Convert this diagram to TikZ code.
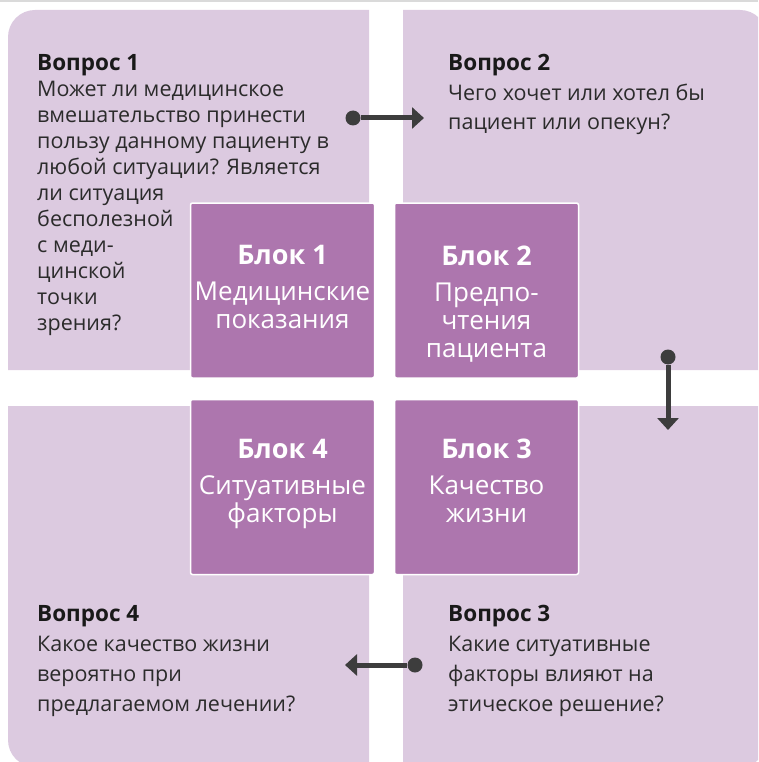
\documentclass[tikz,border=0pt]{standalone}
\usepackage{fontspec}
\setmainfont{Open Sans}
\usetikzlibrary{arrows.meta}

\definecolor{paleLilac}{HTML}{DCCAE0}
\definecolor{blockLilac}{HTML}{AD76AE}
\definecolor{bodyGray}{HTML}{2B2B2B}
\definecolor{arrowGray}{HTML}{3D3D3D}
\definecolor{ruleGray}{HTML}{DADADA}

\begin{document}
\begin{tikzpicture}
    [x = 1pt, y = -1pt,
     quadrant/.style = {fill = paleLilac},
     blockNode/.style = {draw = white, line width = 1.5pt, fill = blockLilac,
                         rounded corners = 2pt, minimum width = 184pt,
                         minimum height = 175pt, inner sep = 0pt},
     blockText/.style = {text = white, align = center, inner sep = 0pt,
                         font = \fontsize{26}{28}\selectfont},
     titleText/.style = {inner sep = 0pt, text = black!90,
                         font = \fontsize{22.5}{26}\selectfont\bfseries},
     questionText/.style = {align = left, inner sep = 0pt, text = bodyGray},
     dotNode/.style = {circle, fill = arrowGray, inner sep = 0pt,
                       minimum size = 15pt},
     flow/.style = {draw = arrowGray, line width = 5pt,
                    -{Triangle[length = 12pt, width = 21pt]}}]

    \useasboundingbox (0,0) rectangle (758,762);
    \clip (0,0) rectangle (758,762);

    % thin rule along the top edge
    \fill [ruleGray] (0,0) rectangle (758,2);

    % four outer quadrants, rounded on the outer corner only
    \fill [quadrant] (369,370) -- (8,370) -- (8,37)
      arc [start angle = 180, end angle = 270, radius = 27] -- (369,10) -- cycle;
    \fill [quadrant] (403,370) -- (403,10) -- (740,10)
      arc [start angle = 270, end angle = 360, radius = 27] -- (767,370) -- cycle;
    \fill [quadrant] (369,406) -- (369,767) -- (35,767)
      arc [start angle = 90, end angle = 180, radius = 27] -- (8,406) -- cycle;
    \fill [quadrant] (403,406) -- (767,406) -- (767,740)
      arc [start angle = 0, end angle = 90, radius = 27] -- (403,767) -- cycle;

    % centre blocks (text nodes sit on the baseline of their last line)
    \node at (282.5,290.5) [blockNode] (B1) {};
    \node at (486.5,290.5) [blockNode] (B2) {};
    \node at (486.5,487)   [blockNode] (B3) {};
    \node at (282.5,487)   [blockNode] (B4) {};

    \node at (282.5,328) [blockText, anchor = base] (B1text)
      {{\fontsize{27}{28}\selectfont\bfseries Блок 1}\\[8pt]Медицинские\\показания};
    \node at (486.5,357) [blockText, anchor = base] (B2text)
      {{\fontsize{27}{28}\selectfont\bfseries Блок 2}\\[8pt]Предпо-\\чтения\\пациента};
    \node at (486.5,522) [blockText, anchor = base] (B3text)
      {{\fontsize{27}{28}\selectfont\bfseries Блок 3}\\[8pt]Качество\\жизни};
    \node at (282.5,522) [blockText, anchor = base] (B4text)
      {{\fontsize{27}{28}\selectfont\bfseries Блок 4}\\[8pt]Ситуативные\\факторы};

    % questions
    \node at (37,71) [titleText, anchor = base west] (Q1title) {Вопрос 1};
    \node at (37,330) [questionText, anchor = base west,
                       font = \fontsize{21.5}{25.9}\selectfont] (Q1text)
      {Может ли медицинское\\вмешательство принести\\пользу данному пациенту в\\
       любой ситуации? Является\\ли ситуация\\бесполезной\\с меди-\\цинской\\
       точки\\зрения?};

    \node at (448,71) [titleText, anchor = base west] (Q2title) {Вопрос 2};
    \node at (448,130) [questionText, anchor = base west,
                        font = \fontsize{21.5}{29.5}\selectfont] (Q2text)
      {Чего хочет или хотел бы\\пациент или опекун?};

    \node at (448,621) [titleText, anchor = base west] (Q3title) {Вопрос 3};
    \node at (448,711) [questionText, anchor = base west,
                        font = \fontsize{21.5}{30}\selectfont] (Q3text)
      {Какие ситуативные\\факторы влияют на\\этическое решение?};

    \node at (37,621) [titleText, anchor = base west] (Q4title) {Вопрос 4};
    \node at (37,711) [questionText, anchor = base west,
                       font = \fontsize{21.5}{30}\selectfont] (Q4text)
      {Какое качество жизни\\вероятно при\\предлагаемом лечении?};

    % arrows between the questions
    \node at (353,118) [dotNode] (D1) {};
    \coordinate (T1) at (424,118);
    \node at (668,357) [dotNode] (D2) {};
    \coordinate (T2) at (668,430);
    \node at (415,665) [dotNode] (D3) {};
    \coordinate (T3) at (345,665);

    \path
      (D1) edge [flow] (T1)
      (D2) edge [flow] (T2)
      (D3) edge [flow] (T3);
  \end{tikzpicture}
\end{document}
